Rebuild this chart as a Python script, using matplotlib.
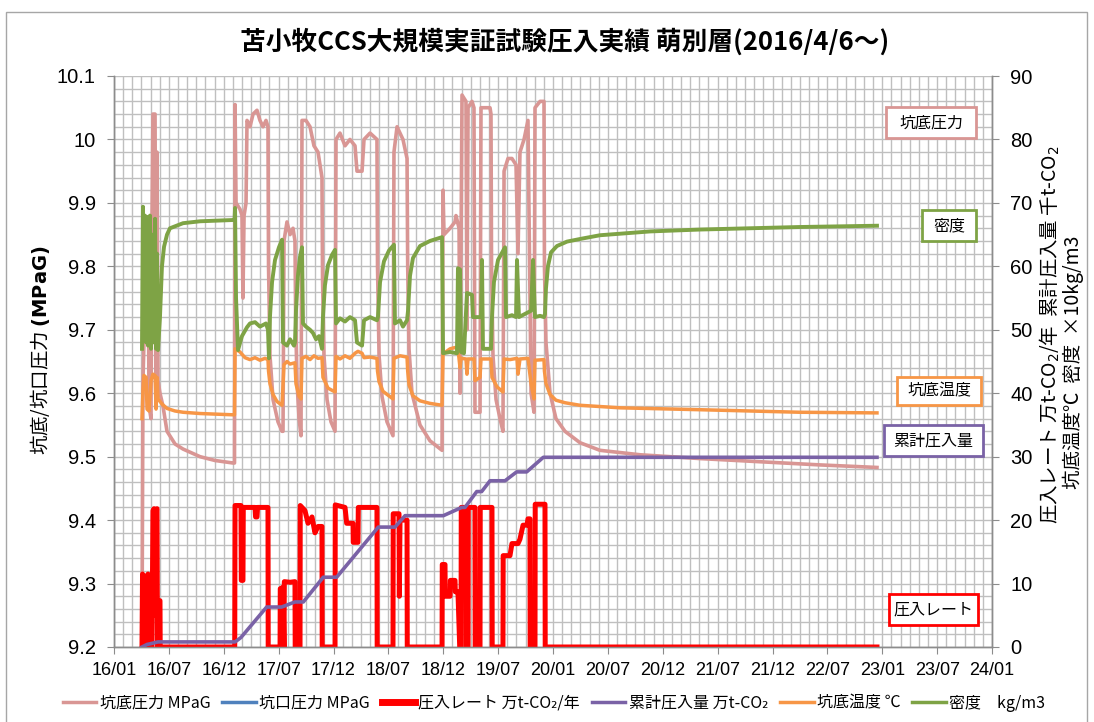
import numpy as np
import matplotlib
matplotlib.use('Agg')
import matplotlib.pyplot as plt
from matplotlib.ticker import MultipleLocator
from matplotlib.lines import Line2D
from matplotlib.patches import Rectangle

plt.rcParams['font.family'] = ['Noto Sans CJK JP', 'DejaVu Sans']

# time axis: years since 2016/01/01
x_labels = ['16/01', '16/07', '16/12', '17/07', '17/12', '18/07', '18/12', '19/07', '20/01',
            '20/07', '20/12', '21/07', '21/12', '22/07', '23/01', '23/07', '24/01']

# 坑底圧力 MPaG (left axis)
t_pres = [0.255, 0.264, 0.273, 0.292, 0.310, 0.319, 0.337, 0.346, 0.355, 0.374, 0.383, 0.392, 0.401, 0.419,
          0.446, 0.483, 0.556, 0.629, 0.784, 0.920, 1.084, 1.098,
          1.103, 1.112, 1.148, 1.166, 1.175, 1.185, 1.203, 1.212, 1.239, 1.267, 1.303, 1.330, 1.358, 1.385,
          1.403, 1.408, 1.421, 1.449, 1.494, 1.531,
          1.540, 1.549, 1.576, 1.604, 1.631, 1.649, 1.655, 1.667, 1.686, 1.704,
          1.713, 1.749, 1.786, 1.822, 1.859, 1.895, 1.900, 1.913, 1.941, 1.977, 2.014,
          2.023, 2.059, 2.105, 2.150, 2.196, 2.214, 2.260, 2.278, 2.333, 2.396, 2.401, 2.415, 2.442, 2.487, 2.542,
          2.551, 2.579, 2.606, 2.633, 2.670, 2.676, 2.688, 2.715, 2.788, 2.879, 2.989,
          2.998, 3.007, 3.062, 3.107, 3.116, 3.144, 3.153,
          3.171, 3.207, 3.216, 3.226, 3.262, 3.280, 3.289, 3.335, 3.344, 3.426, 3.435, 3.440, 3.453, 3.481,
          3.517, 3.544,
          3.554, 3.590, 3.626, 3.663, 3.681, 3.699, 3.736, 3.772, 3.800, 3.827, 3.836, 3.882, 3.918,
          3.922, 3.936, 3.973, 4.027, 4.109, 4.246, 4.428, 4.793, 5.339, 5.886, 6.433, 6.952]
p_bottom = [9.20, 9.62, 9.68, 9.86, 9.87, 9.58, 9.56, 9.87, 10.04, 10.04, 9.60, 9.98, 9.62, 9.60,
            9.58, 9.54, 9.52, 9.512, 9.50, 9.494, 9.49, 9.49,
            10.055, 9.90, 9.89, 9.88, 9.75, 9.88, 9.90, 10.03, 10.02, 10.04, 10.046, 10.03, 10.02, 10.03,
            10.02, 9.80, 9.66, 9.59, 9.555, 9.54,
            9.54, 9.84, 9.87, 9.85, 9.86, 9.84, 9.72, 9.62, 9.56, 9.533,
            10.03, 10.03, 10.02, 9.99, 9.98, 9.94, 9.78, 9.66, 9.59, 9.555, 9.54,
            10.00, 10.01, 9.99, 10.00, 9.99, 9.95, 9.95, 10.00, 10.01, 10.00, 9.80, 9.66, 9.595, 9.555, 9.533,
            9.98, 10.02, 10.01, 10.00, 9.97, 9.80, 9.67, 9.60, 9.55, 9.525, 9.51,
            9.92, 9.85, 9.86, 9.87, 9.88, 9.86, 9.60,
            10.07, 10.06, 9.70, 10.05, 10.06, 10.05, 9.57, 9.57, 10.05, 10.05, 10.04, 9.80, 9.66, 9.59,
            9.56, 9.54,
            9.95, 9.97, 9.97, 9.96, 9.82, 9.98, 10.00, 10.03, 9.60, 9.57, 10.05, 10.06, 10.06,
            9.80, 9.68, 9.60, 9.56, 9.54, 9.522, 9.51, 9.503, 9.497, 9.492, 9.487, 9.483]

# 圧入レート 万t-CO2/年 (right axis)
t_rate = [0.255, 0.260, 0.273, 0.282, 0.292, 0.310, 0.319, 0.328, 0.337, 0.346, 0.355, 0.365, 0.374, 0.383,
          0.392, 0.396, 0.401, 0.419, 0.421,
          1.100, 1.103, 1.157, 1.160, 1.175, 1.178, 1.285, 1.290, 1.303, 1.308, 1.403, 1.405,
          1.513, 1.515, 1.540, 1.549, 1.552, 1.604, 1.649, 1.651,
          1.695, 1.697, 1.740, 1.768, 1.804, 1.831, 1.859, 1.895, 1.897,
          2.014, 2.016, 2.105, 2.120, 2.178, 2.180, 2.223, 2.226, 2.396, 2.398,
          2.542, 2.544, 2.597, 2.600, 2.606, 2.670, 2.672,
          2.989, 2.991, 3.016, 3.018, 3.062, 3.065, 3.107, 3.110, 3.134, 3.150, 3.162, 3.164, 3.207, 3.209,
          3.226, 3.228, 3.289, 3.291, 3.335, 3.337, 3.444, 3.446,
          3.544, 3.546, 3.608, 3.626, 3.681, 3.699, 3.727, 3.763, 3.772, 3.790, 3.792, 3.836, 3.838, 3.927,
          3.929, 6.952]
rate = [0, 11.5, 11, 0, 11, 11.5, 0, 10, 0, 0, 21.5, 21.8, 5, 21.5,
        21.8, 0, 7.3, 7.3, 0,
        0, 22.3, 22.3, 10.5, 10.5, 22, 22, 20.5, 20.5, 22, 22, 0,
        0, 9.2, 9.4, 0, 10.3, 10.2, 10.3, 0,
        0, 22.3, 21.5, 19.5, 20.5, 18, 19, 19, 0,
        0, 22.4, 22, 19.5, 19.5, 16.5, 16.5, 22, 22, 0,
        0, 21, 21, 8, 20, 20, 0,
        0, 13, 13, 8, 8, 10.5, 10.5, 8.7, 8.7, 0, 0, 22, 22, 0,
        0, 22, 22, 0, 0, 22, 22, 0,
        0, 14.4, 14.4, 16.3, 16.3, 17, 19.2, 19.2, 20.2, 20.2, 0, 0, 22.5, 22.5,
        0, 0]

# 累計圧入量 万t-CO2 (right axis)
t_cum = [0.255, 0.301, 0.328, 0.401, 1.103, 1.157, 1.391, 1.527, 1.649, 1.725, 1.907, 2.029, 2.408, 2.560,
         2.652, 3.001, 3.168, 3.198, 3.305, 3.350, 3.426, 3.563, 3.669, 3.760, 3.912, 6.952]
cum = [0, 0.4, 0.5, 0.8, 0.8, 1.5, 6.3, 6.3, 7.1, 7.1, 11.0, 11.0, 18.9, 18.9,
       20.7, 20.7, 22.0, 22.0, 24.5, 24.5, 26.2, 26.2, 27.6, 27.6, 29.9, 29.9]

# 坑底温度 ℃ (right axis)
t_temp = [0.255, 0.264, 0.273, 0.292, 0.301, 0.319, 0.337, 0.355, 0.374, 0.383, 0.392, 0.401, 0.437, 0.483,
          0.556, 0.629, 0.784, 1.084, 1.098,
          1.103, 1.148, 1.194, 1.239, 1.285, 1.330, 1.376, 1.403, 1.408, 1.421, 1.449, 1.485, 1.531,
          1.549, 1.576, 1.604, 1.649, 1.658, 1.686, 1.704,
          1.713, 1.749, 1.786, 1.822, 1.859, 1.895, 1.904, 1.950, 2.014,
          2.023, 2.059, 2.105, 2.150, 2.196, 2.223, 2.260, 2.278, 2.333, 2.396, 2.401, 2.415, 2.451, 2.542,
          2.551, 2.606, 2.670, 2.676, 2.688, 2.724, 2.788, 2.879, 2.989,
          2.998, 3.062, 3.107, 3.134, 3.153, 3.162, 3.207, 3.216, 3.226, 3.280, 3.289, 3.335, 3.344, 3.435,
          3.444, 3.490, 3.544,
          3.554, 3.608, 3.672, 3.681, 3.699, 3.772, 3.800, 3.827, 3.836, 3.918, 3.922, 3.936, 3.973, 4.027,
          4.109, 4.246, 4.611, 5.339, 6.251, 6.952]
temp = [36.0, 40.5, 42.8, 42.5, 37.5, 37.2, 42.0, 43.0, 42.8, 37.5, 42.5, 39.1, 38.3, 37.6,
        37.2, 37.0, 36.8, 36.6, 36.6,
        47.0, 46.5, 45.6, 45.3, 45.6, 45.2, 45.5, 45.3, 43.5, 41.5, 39.8, 38.7, 38.1,
        44.5, 45.0, 44.6, 44.8, 41.5, 39.5, 39.1,
        45.5, 45.8, 45.3, 45.9, 45.5, 45.6, 42.5, 40.8, 40.2,
        45.8, 45.4, 45.9, 45.5, 46.3, 46.6, 46.3, 45.6, 45.7, 45.5, 43.5, 41.8, 40.3, 39.1,
        45.5, 45.9, 45.7, 43.5, 41.3, 39.6, 38.8, 38.4, 38.1,
        46.2, 47.0, 47.2, 47.0, 44.0, 45.5, 45.4, 43.0, 45.4, 45.4, 42.0, 42.5, 45.4, 45.4,
        42.5, 41.0, 40.2,
        45.4, 45.3, 45.5, 43.0, 45.4, 45.5, 41.5, 39.1, 45.2, 45.3, 43.5, 41.5, 39.8, 38.9,
        38.5, 38.1, 37.7, 37.4, 37.0, 36.9]

# 密度 ×10kg/m3 (right axis)
t_dens = [0.255, 0.264, 0.273, 0.282, 0.292, 0.301, 0.310, 0.328, 0.337, 0.346, 0.355, 0.374, 0.383, 0.392,
          0.401, 0.419, 0.437, 0.456, 0.483, 0.510, 0.629, 0.784, 1.084, 1.098,
          1.103, 1.112, 1.130, 1.166, 1.212, 1.239, 1.285, 1.330, 1.385, 1.403, 1.412, 1.421, 1.440, 1.467,
          1.503, 1.531,
          1.540, 1.576, 1.604, 1.640, 1.649, 1.658, 1.676, 1.695, 1.713,
          1.722, 1.749, 1.786, 1.813, 1.841, 1.868, 1.895, 1.904, 1.922, 1.950, 1.986, 2.014,
          2.023, 2.059, 2.105, 2.150, 2.196, 2.214, 2.260, 2.278, 2.333, 2.396, 2.405, 2.424, 2.460, 2.506,
          2.551,
          2.560, 2.606, 2.633, 2.670, 2.679, 2.697, 2.724, 2.788, 2.879, 2.989,
          2.998, 3.062, 3.125, 3.134, 3.153, 3.162, 3.189, 3.216, 3.262, 3.271, 3.344, 3.353, 3.362, 3.435,
          3.444, 3.462, 3.499, 3.563,
          3.572, 3.626, 3.663, 3.672, 3.690, 3.745, 3.800, 3.818, 3.836, 3.882, 3.918, 3.927, 3.936, 3.954,
          3.982, 4.036, 4.128, 4.273, 4.428, 4.884, 5.339, 6.251, 6.952]
dens = [47.0, 69.4, 55.0, 68.0, 48.0, 67.8, 47.5, 68.0, 47.0, 65.0, 48.0, 67.5, 47.0, 62.0,
        46.8, 52.0, 60.0, 63.1, 65.0, 66.0, 66.8, 67.1, 67.3, 67.3,
        69.2, 55.0, 46.8, 49.0, 50.4, 51.0, 51.2, 50.5, 51.0, 50.0, 45.5, 52.0, 57.5, 61.0,
        63.0, 64.2,
        48.0, 47.5, 48.5, 47.5, 48.0, 53.0, 58.5, 61.5, 63.0,
        51.0, 50.5, 50.0, 49.5, 48.5, 49.0, 47.0, 52.0, 57.0, 60.2, 61.8, 62.6,
        51.0, 51.8, 51.3, 52.0, 51.5, 48.0, 47.5, 51.5, 52.0, 51.5, 52.0, 57.5, 60.8, 62.5,
        63.4,
        51.0, 51.5, 50.5, 51.5, 53.0, 58.5, 61.3, 63.2, 64.0, 64.6,
        46.3, 46.5, 46.3, 59.7, 59.5, 46.5, 46.3, 55.8, 55.5, 52.0, 52.0, 61.0, 47.0, 47.0,
        52.0, 57.5, 61.0, 63.0,
        52.0, 52.3, 52.0, 61.0, 52.0, 52.5, 53.0, 61.0, 52.0, 52.2, 52.0, 52.5, 56.5, 60.0,
        62.2, 63.2, 63.9, 64.4, 64.9, 65.5, 65.8, 66.2, 66.4]

c_pres = '#d99694'
c_head = '#4f81bd'
c_rate = '#ff0000'
c_cum = '#7a62a6'
c_temp = '#f79646'
c_dens = '#7ea345'
grid_c = '#bfbfbf'
spine_c = '#8c8c8c'
num_font = ['Liberation Sans', 'DejaVu Sans']

W, H = 1094, 722
fig = plt.figure(figsize=(W / 100, H / 100), dpi=100)
fig.patch.set_facecolor('white')

# outer chart border
fig.add_artist(Rectangle((6 / W, -0.01), (1087 - 6) / W, 1.01 - 12 / H, transform=fig.transFigure,
                         fill=False, edgecolor='#a6a6a6', lw=1.0))

ax = fig.add_axes([114 / W, 1 - 647 / H, 878 / W, 571 / H])
ax2 = ax.twinx()

ax.plot(t_pres, p_bottom, color=c_pres, lw=2.6)
ax2.plot(t_rate, rate, color=c_rate, lw=3.6)
ax2.plot(t_cum, cum, color=c_cum, lw=2.6)
ax2.plot(t_temp, temp, color=c_temp, lw=2.5)
ax2.plot(t_dens, dens, color=c_dens, lw=2.8)

ax.set_xlim(0, 8)
ax.set_ylim(9.2, 10.1)
ax2.set_ylim(0, 90)

ax.set_xticks(np.arange(0, 8.01, 0.5))
ax.set_xticklabels(x_labels, fontfamily=num_font)
ax.xaxis.set_minor_locator(MultipleLocator(1 / 12))
yt = [9.2, 9.3, 9.4, 9.5, 9.6, 9.7, 9.8, 9.9, 10.0, 10.1]
ax.set_yticks(yt)
ax.set_yticklabels(['9.2', '9.3', '9.4', '9.5', '9.6', '9.7', '9.8', '9.9', '10', '10.1'],
                   fontfamily=num_font)
ax.yaxis.set_minor_locator(MultipleLocator(0.02))
ax2.set_yticks(range(0, 91, 10))
ax2.set_yticklabels([str(v) for v in range(0, 91, 10)], fontfamily=num_font)

ax.set_axisbelow(True)
ax.grid(which='both', color=grid_c, lw=1.0)
ax.tick_params(which='minor', length=0)
ax.tick_params(axis='y', which='major', length=5, color=spine_c, labelsize=14.5, pad=8)
ax.tick_params(axis='x', which='major', length=5, color=spine_c, labelsize=13, pad=6)
ax2.tick_params(axis='y', which='major', length=5, color=spine_c, labelsize=14.5, pad=8)
for a in (ax, ax2):
    for s in a.spines.values():
        s.set_color(spine_c)
        s.set_linewidth(1.0)
    a.spines['top'].set_visible(False)

fig.text(565 / W, 1 - 42 / H, '苫小牧CCS大規模実証試験圧入実績 萌別層(2016/4/6～)',
         ha='center', va='center', fontsize=18.5, fontweight='bold')

fig.text(40 / W, 1 - 350 / H, '坑底/坑口圧力 $\\mathbf{(MPaG)}$', rotation=90,
         ha='center', va='center', fontsize=14)
fig.text(1050 / W, 1 - 335 / H, '圧入レート 万t-CO$_2$/年  累計圧入量 千t-CO$_2$', rotation=90,
         ha='center', va='center', fontsize=14)
fig.text(1073 / W, 1 - 362 / H, '坑底温度℃  密度  ×10kg/m3', rotation=90,
         ha='center', va='center', fontsize=14)

# series name boxes on the right side
boxes = [(886, 107, 976, 138, c_pres, '坑底圧力'),
         (922, 210, 976, 241, c_dens, '密度'),
         (897, 377, 981, 405, c_temp, '坑底温度'),
         (884, 425, 983, 456, c_cum, '累計圧入量'),
         (889, 594, 978, 625, c_rate, '圧入レート')]
for x0, y0, x1, y1, col, lab in boxes:
    fig.add_artist(Rectangle((x0 / W, 1 - y1 / H), (x1 - x0) / W, (y1 - y0) / H,
                             transform=fig.transFigure, facecolor='white', edgecolor=col, lw=2))
    fig.text((x0 + x1) / 2 / W, 1 - (y0 + y1) / 2 / H, lab, ha='center', va='center', fontsize=11.5)

handles = [Line2D([], [], color=c_pres, lw=2.5),
           Line2D([], [], color=c_head, lw=2.5),
           Line2D([], [], color=c_rate, lw=5),
           Line2D([], [], color=c_cum, lw=2.5),
           Line2D([], [], color=c_temp, lw=2.5),
           Line2D([], [], color=c_dens, lw=2.5)]
labels = ['坑底圧力 MPaG', '坑口圧力 MPaG', '圧入レート 万t-CO₂/年', '累計圧入量 万t-CO₂', '坑底温度 ℃', '密度　kg/m3']
fig.legend(handles, labels, loc='center', bbox_to_anchor=(554 / W, 1 - 703 / H), ncol=6, frameon=False,
           fontsize=11.5, handlelength=2.1, handletextpad=0.2, columnspacing=0.75)

fig.savefig('out.png', dpi=100)
